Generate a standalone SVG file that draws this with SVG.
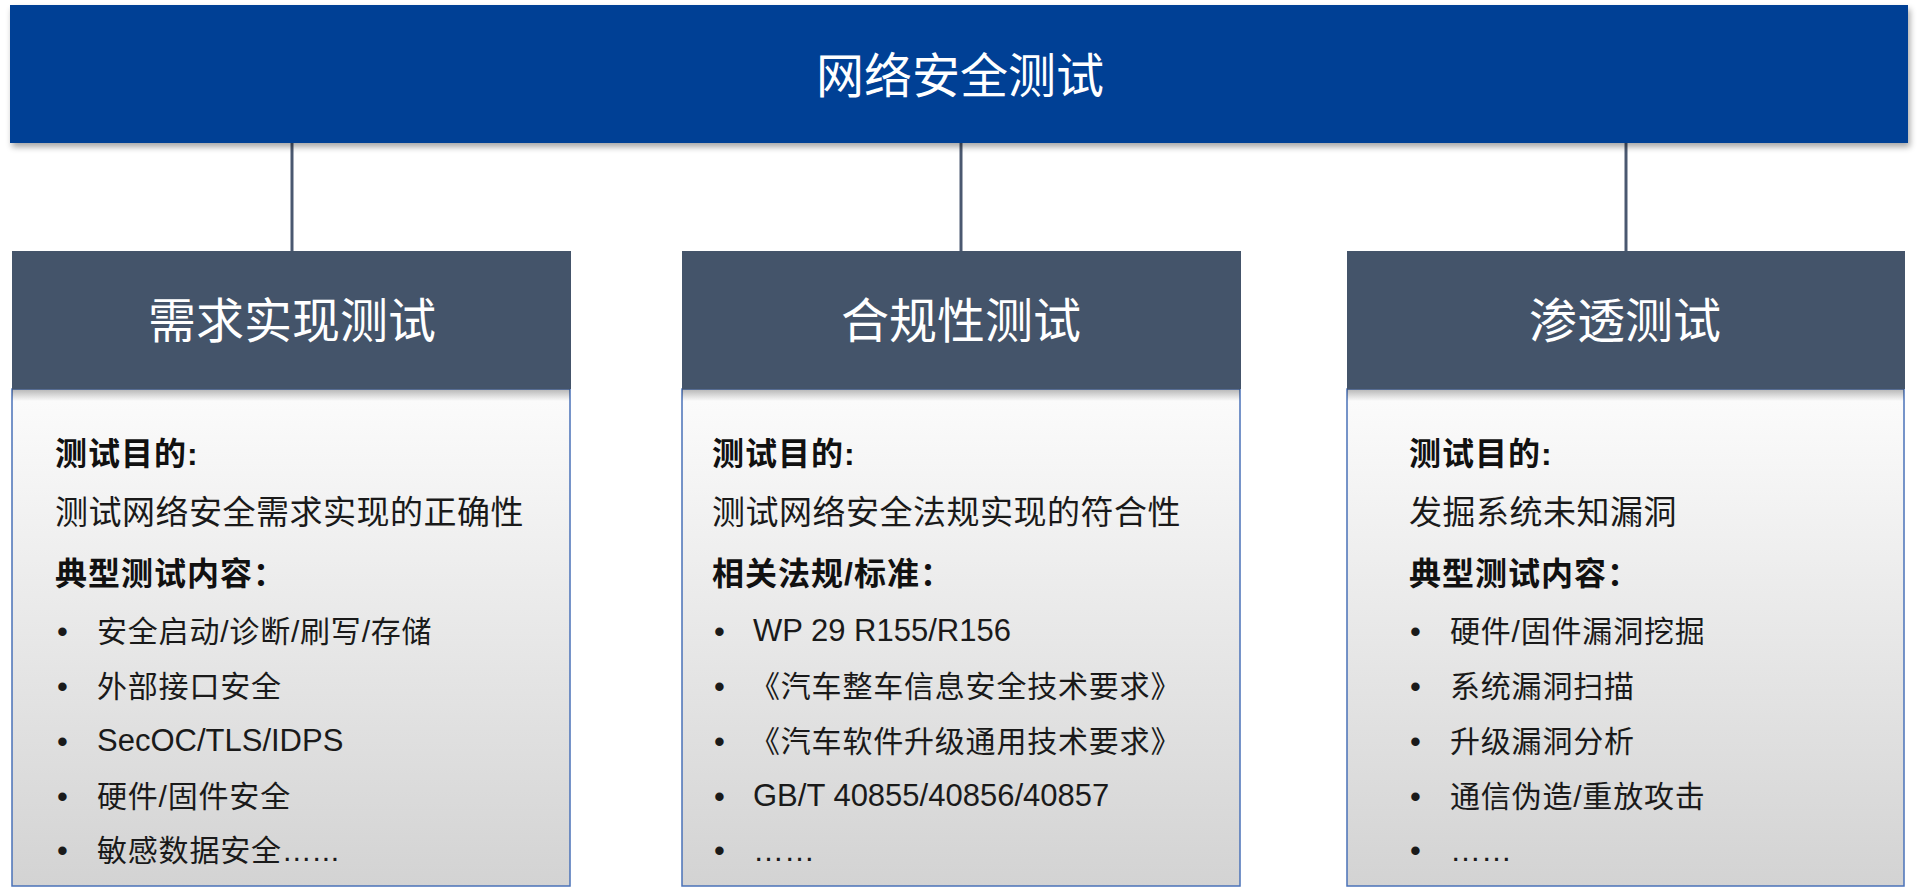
<svg xmlns="http://www.w3.org/2000/svg" width="1920" height="888" viewBox="0 0 1920 888">
<defs>
<linearGradient id="bodyGrad" x1="0" y1="0" x2="0" y2="1">
<stop offset="0" stop-color="#FCFCFC"/>
<stop offset="1" stop-color="#D3D3D3"/>
</linearGradient>
<linearGradient id="hdrShadow" x1="0" y1="0" x2="0" y2="1">
<stop offset="0" stop-color="#000" stop-opacity="0.28"/>
<stop offset="1" stop-color="#000" stop-opacity="0"/>
</linearGradient>
<filter id="shadow" x="-5%" y="-20%" width="110%" height="150%">
<feGaussianBlur in="SourceAlpha" stdDeviation="3"/>
<feOffset dx="2" dy="4" result="b"/>
<feComponentTransfer><feFuncA type="linear" slope="0.35"/></feComponentTransfer>
<feMerge><feMergeNode/><feMergeNode in="SourceGraphic"/></feMerge>
</filter>
<style>
.bar{fill:#003F95}
.hdr{fill:#44546A}
.body{fill:url(#bodyGrad);stroke:#4A72B8;stroke-width:1.5}
.conn{stroke:#4A5870;stroke-width:3;fill:none}
.title{font-family:"Liberation Sans","Noto Sans CJK SC",sans-serif;font-size:48px;fill:#FFFFFF;text-anchor:middle}
.lbl{font-family:"Liberation Sans","Noto Sans CJK SC",sans-serif;font-size:32px;font-weight:bold;fill:#111111;letter-spacing:1px}
.txt{font-family:"Liberation Sans","Noto Sans CJK SC",sans-serif;font-size:33px;fill:#1A1A1A;letter-spacing:0.5px}
.itm{font-family:"Liberation Sans","Noto Sans CJK SC",sans-serif;font-size:30px;fill:#1A1A1A;letter-spacing:0.8px}
.lat{font-family:"Liberation Sans","Noto Sans CJK SC",sans-serif;font-size:31px;fill:#1A1A1A}
.dot{font-family:"Liberation Sans",sans-serif;font-size:31px;fill:#1A1A1A}
</style>
</defs>

<g id="connectors">
<line class="conn" x1="292" y1="140" x2="292" y2="252"/>
<line class="conn" x1="961" y1="140" x2="961" y2="252"/>
<line class="conn" x1="1626" y1="140" x2="1626" y2="252"/>
</g>

<g id="root">
<rect class="bar" x="10" y="5" width="1898" height="138" filter="url(#shadow)"/>
<text class="title" x="960" y="93">网络安全测试</text>
</g>

<g id="node-requirement">
<rect class="body" x="12" y="389" width="558" height="497"/>
<rect x="12" y="389" width="558" height="12" fill="url(#hdrShadow)"/>
<rect class="hdr" x="12" y="251" width="559" height="138"/>
<text class="title" x="292" y="338">需求实现测试</text>
<text class="lbl" x="55" y="465">测试目的:</text>
<text class="txt" x="55" y="524">测试网络安全需求实现的正确性</text>
<text class="lbl" x="55" y="585">典型测试内容：</text>
<text class="dot" x="57" y="642">•</text><text class="itm" x="97" y="642">安全启动/诊断/刷写/存储</text>
<text class="dot" x="57" y="697">•</text><text class="itm" x="97" y="697">外部接口安全</text>
<text class="dot" x="57" y="752">•</text><text class="lat" x="97" y="751">SecOC/TLS/IDPS</text>
<text class="dot" x="57" y="807">•</text><text class="itm" x="97" y="807">硬件/固件安全</text>
<text class="dot" x="57" y="861">•</text><text class="itm" x="97" y="861">敏感数据安全…...</text>
</g>

<g id="node-compliance">
<rect class="body" x="682" y="389" width="558" height="497"/>
<rect x="682" y="389" width="558" height="12" fill="url(#hdrShadow)"/>
<rect class="hdr" x="682" y="251" width="559" height="138"/>
<text class="title" x="961" y="338">合规性测试</text>
<text class="lbl" x="712" y="465">测试目的:</text>
<text class="txt" x="712" y="524">测试网络安全法规实现的符合性</text>
<text class="lbl" x="712" y="585">相关法规/标准：</text>
<text class="dot" x="714" y="642">•</text><text class="lat" x="753" y="641">WP 29 R155/R156</text>
<text class="dot" x="714" y="697">•</text><text class="itm" x="750" y="697">《汽车整车信息安全技术要求》</text>
<text class="dot" x="714" y="752">•</text><text class="itm" x="750" y="752">《汽车软件升级通用技术要求》</text>
<text class="dot" x="714" y="807">•</text><text class="lat" x="753" y="806">GB/T 40855/40856/40857</text>
<text class="dot" x="714" y="861">•</text><text class="lat" x="753" y="861">……</text>
</g>

<g id="node-penetration">
<rect class="body" x="1347" y="389" width="557" height="497"/>
<rect x="1347" y="389" width="557" height="12" fill="url(#hdrShadow)"/>
<rect class="hdr" x="1347" y="251" width="558" height="138"/>
<text class="title" x="1625" y="338">渗透测试</text>
<text class="lbl" x="1409" y="465">测试目的:</text>
<text class="txt" x="1409" y="524">发掘系统未知漏洞</text>
<text class="lbl" x="1409" y="585">典型测试内容：</text>
<text class="dot" x="1410" y="642">•</text><text class="itm" x="1450" y="642">硬件/固件漏洞挖掘</text>
<text class="dot" x="1410" y="697">•</text><text class="itm" x="1450" y="697">系统漏洞扫描</text>
<text class="dot" x="1410" y="752">•</text><text class="itm" x="1450" y="752">升级漏洞分析</text>
<text class="dot" x="1410" y="807">•</text><text class="itm" x="1450" y="807">通信伪造/重放攻击</text>
<text class="dot" x="1410" y="861">•</text><text class="lat" x="1450" y="861">……</text>
</g>
</svg>
